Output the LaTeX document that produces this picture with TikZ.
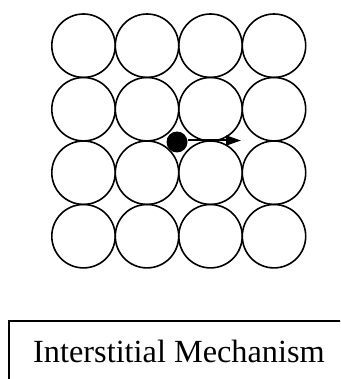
\documentclass[tikz,border=0pt]{standalone}
\usepackage{fontspec}
\setmainfont{Liberation Serif}
\usetikzlibrary{arrows.meta}

\begin{document}
\begin{tikzpicture}[x=1pt, y=-1pt]
\useasboundingbox (0, 0) rectangle (340, 379);
\clip (0, 0) rectangle (340, 379);
\draw[line width=1.6pt] (83.5, 45.7) circle (31.7pt);
\draw[line width=1.6pt] (147, 45.7) circle (31.7pt);
\draw[line width=1.6pt] (210.5, 45.7) circle (31.7pt);
\draw[line width=1.6pt] (274, 45.7) circle (31.7pt);
\draw[line width=1.6pt] (83.5, 109.2) circle (31.7pt);
\draw[line width=1.6pt] (147, 109.2) circle (31.7pt);
\draw[line width=1.6pt] (210.5, 109.2) circle (31.7pt);
\draw[line width=1.6pt] (274, 109.2) circle (31.7pt);
\draw[line width=1.6pt] (83.5, 172.7) circle (31.7pt);
\draw[line width=1.6pt] (147, 172.7) circle (31.7pt);
\draw[line width=1.6pt] (210.5, 172.7) circle (31.7pt);
\draw[line width=1.6pt] (274, 172.7) circle (31.7pt);
\draw[line width=1.6pt] (83.5, 236.2) circle (31.7pt);
\draw[line width=1.6pt] (147, 236.2) circle (31.7pt);
\draw[line width=1.6pt] (210.5, 236.2) circle (31.7pt);
\draw[line width=1.6pt] (274, 236.2) circle (31.7pt);
\node[circle, fill, inner sep=0pt, minimum size=21pt] (atom) at (177, 142) {};
\coordinate (jump) at (241, 140.5);
\draw[line width=2pt, -{Triangle[length=15pt, width=10pt]}] (atom.east |- jump) -- (jump);
\draw[line width=1.2pt] (9, 321) rectangle (350, 390);
\node[anchor=base, inner sep=0pt, font=\fontsize{32.3}{36}\selectfont] (label) at (179, 362) {Interstitial Mechanism};
\end{tikzpicture}
\end{document}
